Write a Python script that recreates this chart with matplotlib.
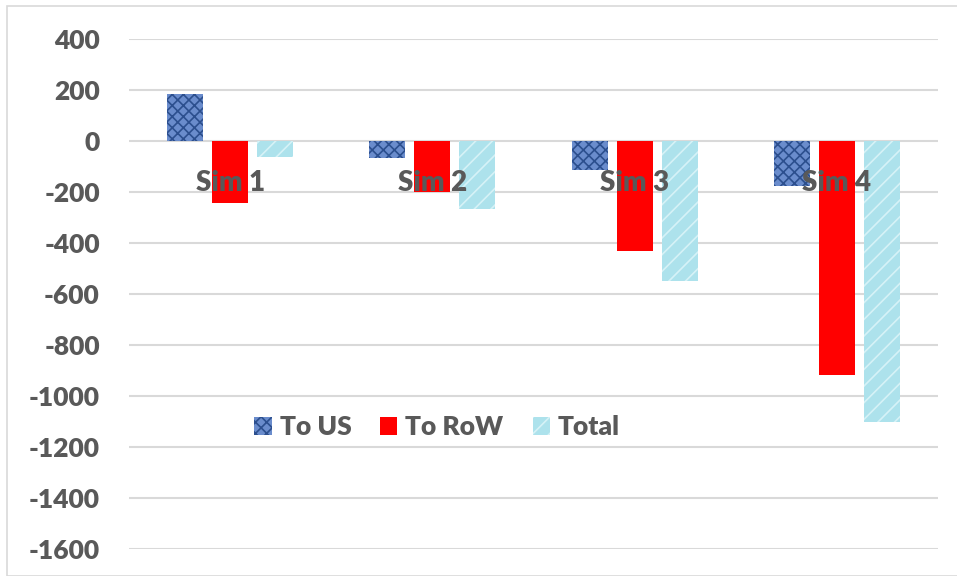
import numpy as np
import matplotlib.pyplot as plt
from matplotlib.patches import Rectangle, Patch

sims = ['Sim 1', 'Sim 2', 'Sim 3', 'Sim 4']
series = ['To US', 'To RoW', 'Total']
to_us = [186, -67, -113, -177]
to_row = [-245, -200, -432, -919]
total = [-63, -267, -549, -1100]
yticks = [400, 200, 0, -200, -400, -600, -800, -1000, -1200, -1400, -1600]

plt.rcParams['font.family'] = ['Lato', 'DejaVu Sans']
plt.rcParams['font.weight'] = 'heavy'
plt.rcParams['hatch.linewidth'] = 1.2
txt = '#595959'

fig = plt.figure(figsize=(9.57, 5.76), dpi=100)
ax = fig.add_axes([129/957, 1 - 549/576, (938 - 129)/957, (549 - 39)/576])

# chart border (Excel chart area)
fig.patches.append(Rectangle((7/957, 0), 1.0, 1 - 6/576, transform=fig.transFigure,
                             fill=False, edgecolor='#d9d9d9', linewidth=1.2))

x = np.arange(len(sims))
w = 0.178
step = 0.223
styles = [
    dict(facecolor='#6a8ccc', edgecolor='#2c4f8e', hatch='xxx'),
    dict(facecolor='#ff0000', edgecolor='#ff0000'),
    dict(facecolor='#ade2ec', edgecolor='#d6f2f7', hatch='//'),
]
for i, vals in enumerate([to_us, to_row, total]):
    ax.bar(x + (i - 1) * step, vals, width=w, linewidth=0, label=series[i], zorder=2, **styles[i])

ax.set_xlim(-0.5, len(sims) - 0.5)
ax.set_ylim(-1600, 400)
ax.set_yticks(yticks)
ax.set_yticklabels([str(t) for t in yticks])
ax.yaxis.grid(True, color='#d9d9d9', linewidth=1.5, zorder=0)
ax.set_axisbelow(True)
for s in ax.spines.values():
    s.set_visible(False)
ax.tick_params(axis='y', length=0, pad=21, labelsize=19, labelcolor=txt)
ax.set_xticks([])

# category labels sit just below the zero line
for xi, name in zip(x, sims):
    ax.annotate(name, (xi, 0), xytext=(0, -21), textcoords='offset points',
                ha='center', va='top', fontsize=20, color=txt, zorder=3)

handles = [Patch(label=series[i], linewidth=0, **styles[i]) for i in range(3)]
leg = fig.legend(handles=handles, loc='center', bbox_to_anchor=(437/957, 1 - 427/576),
                 ncol=3, frameon=False, fontsize=19, handlelength=0.65, handleheight=0.65,
                 handletextpad=0.3, columnspacing=1.1)
for t in leg.get_texts():
    t.set_color(txt)

fig.savefig('out.png', dpi=100)
